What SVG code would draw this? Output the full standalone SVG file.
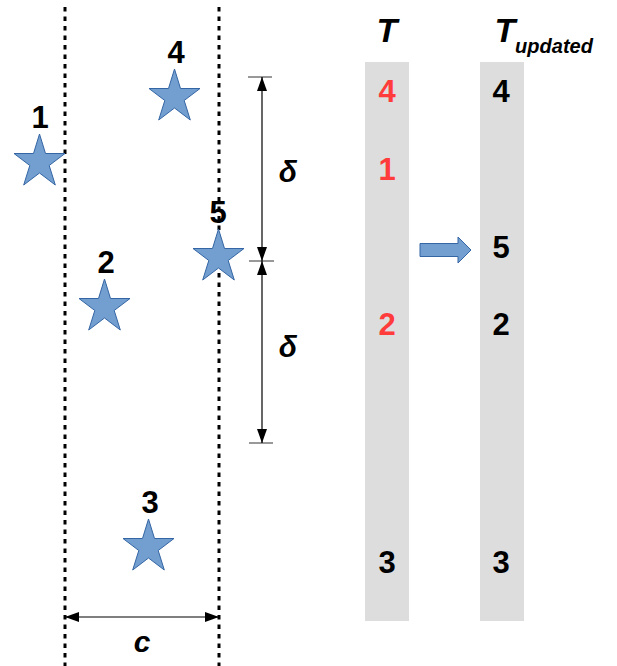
<svg xmlns="http://www.w3.org/2000/svg" width="617" height="666" viewBox="0 0 617 666">
  <style>
    .lbl { font-family: "Liberation Sans", Arial, sans-serif; font-weight: bold; font-size: 31px; fill: #000; text-anchor: middle; }
    .ital { font-style: italic; }
    .red { fill: #ff3b3b; }
    .star { fill: #729fcf; stroke: #3465a4; stroke-width: 1; }
    .guide { stroke: #000; stroke-width: 3; stroke-dasharray: 4.5 5; fill: none; }
    .dim { stroke: #000; stroke-width: 1.2; fill: none; }
    .tick { stroke: #333; stroke-width: 1; }
    .col { fill: #dddddd; }
  </style>
  <defs>
    <!-- five-point star fitted to a 51x51 box -->
    <path id="star" class="star" d="M25.5,0 L31.5,19.5 L51,19.5 L35.2,31.5 L41.3,51 L25.5,39 L9.7,51 L15.8,31.5 L0,19.5 L19.5,19.5 Z"/>
    <marker id="ah" viewBox="0 0 14 10" refX="14" refY="5" markerWidth="14" markerHeight="10" markerUnits="userSpaceOnUse" orient="auto-start-reverse">
      <path d="M0,0 L14,5 L0,10 Z" fill="#000"/>
    </marker>
  </defs>

  <!-- table columns -->
  <g id="column-T">
    <rect class="col" x="365" y="62" width="44" height="559"/>
    <text class="lbl ital" x="387" y="42" style="font-size:34px">T</text>
    <text class="lbl red" x="387" y="102">4</text>
    <text class="lbl red" x="387" y="180">1</text>
    <text class="lbl red" x="387" y="335">2</text>
    <text class="lbl" x="387" y="573">3</text>
  </g>
  <g id="column-T-updated">
    <rect class="col" x="480" y="62" width="44" height="559"/>
    <text class="lbl ital" x="505" y="42" style="font-size:34px">T</text>
    <text class="lbl ital" x="554" y="53" style="font-size:20px">updated</text>
    <text class="lbl" x="501" y="102">4</text>
    <text class="lbl" x="501" y="258">5</text>
    <text class="lbl" x="501" y="335">2</text>
    <text class="lbl" x="501" y="573">3</text>
  </g>

  <!-- strip boundaries -->
  <g id="strip">
    <line class="guide" x1="65" y1="7" x2="65" y2="666"/>
    <line class="guide" x1="219" y1="7" x2="219" y2="666"/>
  </g>

  <!-- points -->
  <g id="p1"><use href="#star" x="14" y="134"/><text class="lbl" x="40" y="128">1</text></g>
  <g id="p4"><use href="#star" x="149" y="69"/><text class="lbl" x="176" y="63">4</text></g>
  <g id="p5"><use href="#star" x="193" y="229"/><text class="lbl" x="218" y="223">5</text></g>
  <g id="p2"><use href="#star" x="79" y="279"/><text class="lbl" x="106" y="273">2</text></g>
  <g id="p3"><use href="#star" x="123" y="519"/><text class="lbl" x="150" y="513">3</text></g>

  <!-- connectors and dimensions -->
  <g id="connectors">
    <line class="tick" x1="248" y1="77" x2="272" y2="77"/>
    <line class="tick" x1="249" y1="261" x2="274" y2="261"/>
    <line class="tick" x1="249" y1="443" x2="273" y2="443"/>
    <line class="dim" x1="262" y1="77" x2="262" y2="261" marker-start="url(#ah)" marker-end="url(#ah)"/>
    <line class="dim" x1="262" y1="261" x2="262" y2="443" marker-start="url(#ah)" marker-end="url(#ah)"/>
    <line class="dim" x1="65" y1="617" x2="219" y2="617" marker-start="url(#ah)" marker-end="url(#ah)"/>
    <path class="star" d="M420,243.5 L458,243.5 L458,237 L471,250 L458,263 L458,256.5 L420,256.5 Z"/>
  </g>
  <g id="dim-labels">
    <text class="lbl ital" x="288" y="182" style="font-size:30px">δ</text>
    <text class="lbl ital" x="288" y="357" style="font-size:30px">δ</text>
    <text class="lbl ital" x="142" y="652" style="font-size:30px">c</text>
  </g>
</svg>
